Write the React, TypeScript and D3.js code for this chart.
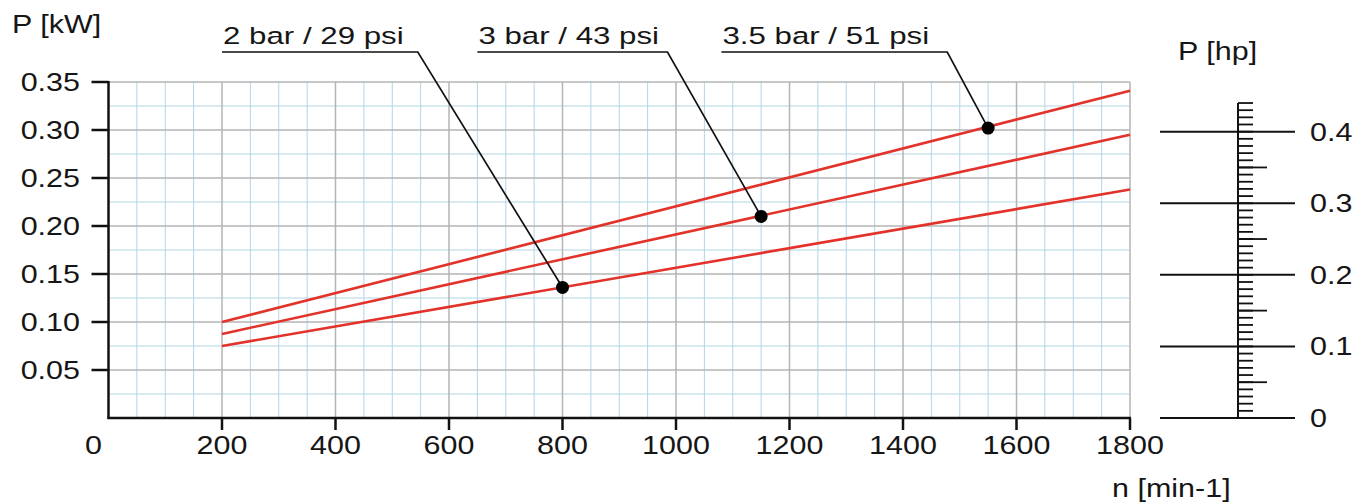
import React from "react";
import * as d3 from "d3";

// pump power vs speed, three pressure curves
const pressureLabels = ["2 bar / 29 psi", "3 bar / 43 psi", "3.5 bar / 51 psi"];
const speedEnds = [200, 1800];
const powerAtStart = [0.075, 0.0875, 0.1];
const powerAtEnd = [0.238, 0.295, 0.341];
const markerSpeed = [800, 1150, 1550];
const markerPower = [0.136, 0.21, 0.302];

const speedTicks = [0, 200, 400, 600, 800, 1000, 1200, 1400, 1600, 1800];
const powerTicks = [0.05, 0.1, 0.15, 0.2, 0.25, 0.3, 0.35];
const hpTicks = [0, 0.1, 0.2, 0.3, 0.4];

const KW_PER_HP = 0.7457;

const W = 1356;
const H = 503;
const FONT = "'Liberation Sans', Arial, Helvetica, sans-serif";
const SX = 1.22; // glyphs in the source are a bit wide

const x = d3.scaleLinear().domain([0, 1800]).range([108.5, 1130]);
const y = d3.scaleLinear().domain([0, 0.35]).range([418, 82]);
const yHp = (hp: number) => y(hp * KW_PER_HP);

// where the callouts sit (speed units along the top)
const labelStart = [200, 650, 1080];
const labelEnd = [545, 985, 1478];
const labelY = 52;

function Txt({ x, y, anchor = "start", size = 25, sx = SX, children }: any) {
  return (
    <text
      transform={`translate(${x},${y}) scale(${sx},1)`}
      textAnchor={anchor}
      fontFamily={FONT}
      fontSize={size}
      fill="#161616"
    >
      {children}
    </text>
  );
}

export default function App() {
  const vMinor = d3.range(50, 1800, 50).filter((v) => v % 200 !== 0);
  const vMajor = d3.range(200, 1801, 200);
  const hMinor = d3.range(0.025, 0.35, 0.05);
  const hMajor = d3.range(0.05, 0.351, 0.05);

  const line = d3
    .line<[number, number]>()
    .x((d) => x(d[0]))
    .y((d) => y(d[1]));

  const hpMinor = d3.range(0, 45).map((i) => i / 100);
  const hpMid = [0.05, 0.15, 0.25, 0.35];
  const hpAxisX = 1238;

  return (
    <svg
      width={W}
      height={H}
      style={{ position: "absolute", left: 0, top: 0, background: "#fff" }}
    >
      {/* grid */}
      <g>
        {vMinor.map((v) => (
          <line key={"vm" + v} x1={x(v)} x2={x(v)} y1={y(0)} y2={y(0.35)} stroke="#b3d4e6" strokeWidth={1} />
        ))}
        {hMinor.map((v) => (
          <line key={"hm" + v} x1={x(0)} x2={x(1800)} y1={y(v)} y2={y(v)} stroke="#b3d4e6" strokeWidth={1} />
        ))}
        {vMajor.map((v) => (
          <line key={"vM" + v} x1={x(v)} x2={x(v)} y1={y(0)} y2={y(0.35)} stroke="#b4b4b4" strokeWidth={1.5} />
        ))}
        {hMajor.map((v) => (
          <line key={"hM" + v} x1={x(0)} x2={x(1800)} y1={y(v)} y2={y(v)} stroke="#b4b4b4" strokeWidth={1.5} />
        ))}
      </g>

      {/* axes */}
      <g stroke="#111" strokeWidth={2.5}>
        <line x1={x(0)} x2={x(0)} y1={y(0.35) - 1} y2={y(0) + 1} />
        <line x1={x(0) - 1} x2={x(1800) + 1} y1={y(0)} y2={y(0)} />
        {powerTicks.map((t) => (
          <line key={"yt" + t} x1={x(0) - 17} x2={x(0)} y1={y(t)} y2={y(t)} />
        ))}
        {speedTicks.filter((t) => t > 0).map((t) => (
          <line key={"xt" + t} x1={x(t)} x2={x(t)} y1={y(0)} y2={y(0) + 12} />
        ))}
      </g>
      {powerTicks.map((t) => (
        <Txt key={"yl" + t} x={80} y={y(t) + 9} anchor="end">
          {d3.format(".2f")(t)}
        </Txt>
      ))}
      {speedTicks.map((t) => (
        <Txt key={"xl" + t} x={t === 0 ? x(t) - 15 : x(t)} y={454} anchor="middle">
          {t}
        </Txt>
      ))}
      <Txt x={12} y={33}>P [kW]</Txt>
      <Txt x={1112} y={497}>n [min-1]</Txt>

      {/* power curves */}
      {pressureLabels.map((lab, i) => (
        <path
          key={"c" + i}
          d={line([
            [speedEnds[0], powerAtStart[i]],
            [speedEnds[1], powerAtEnd[i]],
          ]) || ""}
          fill="none"
          stroke="#e3322a"
          strokeWidth={2.6}
        />
      ))}

      {/* callouts */}
      {pressureLabels.map((lab, i) => (
        <g key={"lab" + i}>
          <Txt x={x(labelStart[i]) + 1} y={44} size={23.5} sx={1.33}>
            {lab}
          </Txt>
          <polyline
            points={`${x(labelStart[i])},${labelY} ${x(labelEnd[i])},${labelY} ${x(markerSpeed[i])},${y(markerPower[i])}`}
            fill="none"
            stroke="#111"
            strokeWidth={1.7}
          />
          <circle cx={x(markerSpeed[i])} cy={y(markerPower[i])} r={6.5} fill="#000" />
        </g>
      ))}

      {/* hp scale */}
      <g stroke="#111">
        <line x1={hpAxisX} x2={hpAxisX} y1={yHp(0.44)} y2={yHp(0)} strokeWidth={2} />
        {hpMinor.map((t) => (
          <line key={"hm" + t} x1={hpAxisX} x2={hpAxisX + 15} y1={yHp(t)} y2={yHp(t)} strokeWidth={1.8} />
        ))}
        {hpMid.map((t) => (
          <line key={"hmid" + t} x1={hpAxisX} x2={hpAxisX + 29} y1={yHp(t)} y2={yHp(t)} strokeWidth={1.8} />
        ))}
        {hpTicks.map((t) => (
          <line key={"hM" + t} x1={1160} x2={1295} y1={yHp(t)} y2={yHp(t)} strokeWidth={2} />
        ))}
      </g>
      {hpTicks.map((t) => (
        <Txt key={"hl" + t} x={1310} y={yHp(t) + 9}>
          {t === 0 ? "0" : d3.format(".1f")(t)}
        </Txt>
      ))}
      <Txt x={1178} y={60}>P [hp]</Txt>
    </svg>
  );
}
